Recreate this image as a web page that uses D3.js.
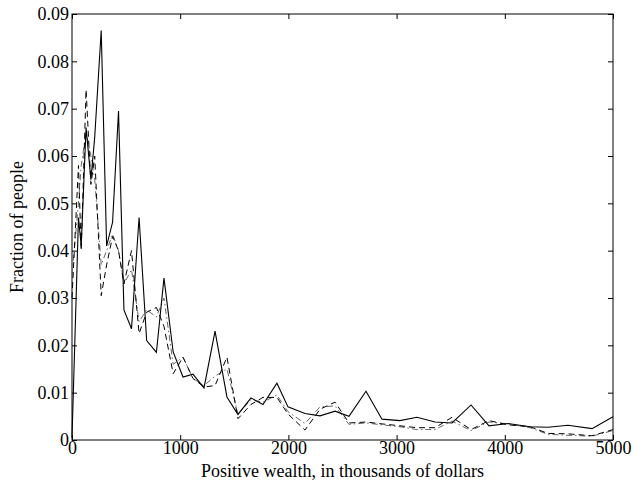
<!DOCTYPE html>
<html>
<head>
<meta charset="utf-8">
<script src="https://cdn.jsdelivr.net/npm/d3@7"></script>
<style>
body { margin: 0; background: #fff; }
text { font-family: "Liberation Serif", serif; font-size: 18px; fill: #000; }
</style>
</head>
<body>
<svg id="chart" width="634" height="489"></svg>
<script>
const wealth = [0, 60, 85, 130, 175, 210, 270, 320, 375, 430, 480, 550, 620, 690, 780, 850, 935, 1026, 1118, 1220,
    1322, 1432, 1534, 1654, 1765, 1894, 1996, 2153, 2292, 2431, 2560, 2717, 2865, 3031, 3188, 3355, 3512, 3688,
    3854, 4030, 4233, 4399, 4584, 4806, 5000];
const solidSeries = [0.0005, 0.047, 0.041, 0.066, 0.055, 0.064, 0.0865, 0.041, 0.046, 0.0695, 0.0275, 0.0235, 0.047,
    0.021, 0.0185, 0.0342, 0.0186, 0.0133, 0.0139, 0.0110, 0.0230, 0.0091, 0.0054, 0.0089, 0.0075, 0.0120, 0.0070,
    0.0056, 0.0051, 0.0061, 0.0050, 0.0103, 0.0044, 0.0041, 0.0048, 0.0038, 0.0036, 0.0074, 0.0030, 0.0035, 0.0028,
    0.0027, 0.0031, 0.0024, 0.0049];
const dashedSeries = [0.030, 0.058, 0.040, 0.074, 0.054, 0.060, 0.0305, 0.037, 0.043, 0.040, 0.033, 0.040, 0.0225,
    0.027, 0.028, 0.024, 0.014, 0.0175, 0.013, 0.0112, 0.0115, 0.0175, 0.0045, 0.0075, 0.009, 0.009, 0.0055, 0.0021,
    0.0065, 0.008, 0.0036, 0.0038, 0.0034, 0.003, 0.0026, 0.0026, 0.0048, 0.0022, 0.0041, 0.0032, 0.0028, 0.0014,
    0.0013, 0.0009, 0.0022];
const dashDotSeries = [0.035, 0.050, 0.058, 0.065, 0.060, 0.055, 0.037, 0.040, 0.0435, 0.040, 0.033, 0.036, 0.025,
    0.0275, 0.026, 0.030, 0.016, 0.0175, 0.013, 0.0115, 0.0135, 0.015, 0.0055, 0.0085, 0.0080, 0.0095, 0.006, 0.0035,
    0.0070, 0.0072, 0.0033, 0.0036, 0.0032, 0.0028, 0.0022, 0.0022, 0.0040, 0.0020, 0.0038, 0.0034, 0.0026, 0.0012,
    0.0010, 0.0008, 0.0020];
const xTicks = [0, 1000, 2000, 3000, 4000, 5000];
const yTicks = [0, 0.01, 0.02, 0.03, 0.04, 0.05, 0.06, 0.07, 0.08, 0.09];

const svg = d3.select('#chart');
const plotL = 72, plotR = 613, plotT = 14, plotB = 440;
const x = d3.scaleLinear().domain([0, 5000]).range([plotL, plotR]);
const y = d3.scaleLinear().domain([0, 0.09]).range([plotB, plotT]);

function drawAxis(axis, tx, ty, labels) {
    const g = svg.append('g').attr('transform', `translate(${tx},${ty})`).call(axis);
    g.select('.domain').remove();
    g.selectAll('line').attr('stroke', '#000');
    if (!labels) g.selectAll('text').remove();
    else g.selectAll('text').style('font-size', '18px').style('font-family', '"Liberation Serif", serif');
    return g;
}
drawAxis(d3.axisBottom(x).tickValues(xTicks).tickSize(-5).tickPadding(1).tickFormat(d3.format('d')), 0, plotB, true);
drawAxis(d3.axisTop(x).tickValues(xTicks).tickSize(-5), 0, plotT, false);
drawAxis(d3.axisLeft(y).tickValues(yTicks).tickSize(-5).tickPadding(3).tickFormat(d => d === 0 ? '0' : d3.format('.2f')(d)), plotL, 0, true);
drawAxis(d3.axisRight(y).tickValues(yTicks).tickSize(-5), plotR, 0, false);

svg.append('rect').attr('x', plotL).attr('y', plotT).attr('width', plotR - plotL).attr('height', plotB - plotT)
    .attr('fill', 'none').attr('stroke', '#000').attr('stroke-width', 1);

const line = vals => d3.line().x((d, i) => x(wealth[i])).y(d => y(d))(vals);
svg.append('path').attr('d', line(dashDotSeries)).attr('fill', 'none').attr('stroke', '#666')
    .attr('stroke-width', 1).attr('stroke-dasharray', '6,3,1.5,3');
svg.append('path').attr('d', line(dashedSeries)).attr('fill', 'none').attr('stroke', '#000')
    .attr('stroke-width', 1).attr('stroke-dasharray', '6,4');
svg.append('path').attr('d', line(solidSeries)).attr('fill', 'none').attr('stroke', '#000')
    .attr('stroke-width', 1.1);

svg.append('text').attr('x', (plotL + plotR) / 2).attr('y', 477).attr('text-anchor', 'middle')
    .text('Positive wealth, in thousands of dollars');
svg.append('text').attr('transform', `translate(23,${(plotT + plotB) / 2}) rotate(-90)`).attr('text-anchor', 'middle')
    .text('Fraction of people');
</script>
</body>
</html>
